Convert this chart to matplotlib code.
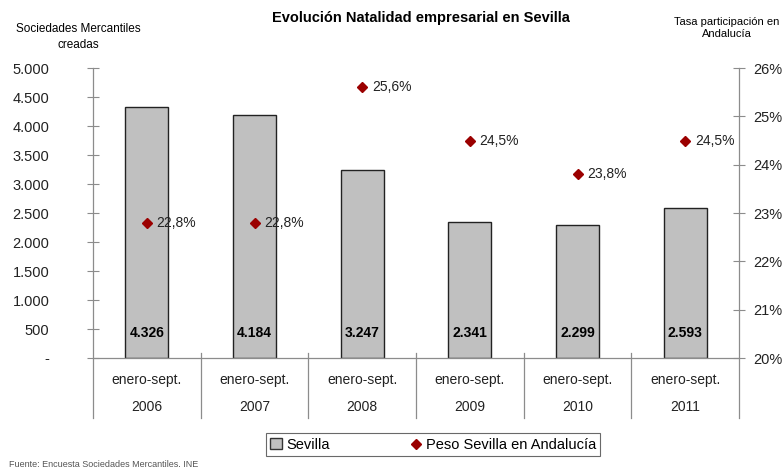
import numpy as np
import matplotlib

matplotlib.use("Agg")
import matplotlib.pyplot as plt
from matplotlib.lines import Line2D
from matplotlib.patches import Patch
import matplotlib.transforms as mtrans

plt.rcParams["font.family"] = ["Liberation Sans", "DejaVu Sans"]

# ---------- datos ----------
years = ["2006", "2007", "2008", "2009", "2010", "2011"]
period = "enero-sept."
sevilla = [4326, 4184, 3247, 2341, 2299, 2593]
sevilla_txt = ["4.326", "4.184", "3.247", "2.341", "2.299", "2.593"]
peso = [22.8, 22.8, 25.6, 24.5, 23.8, 24.5]
peso_txt = ["22,8%", "22,8%", "25,6%", "24,5%", "23,8%", "24,5%"]
left_ticks = [0, 500, 1000, 1500, 2000, 2500, 3000, 3500, 4000, 4500, 5000]
left_labels = ["-", "500", "1.000", "1.500", "2.000", "2.500", "3.000",
               "3.500", "4.000", "4.500", "5.000"]
right_ticks = [20, 21, 22, 23, 24, 25, 26]

GRAY = "#8c8c8c"
BAR = "#c0c0c0"
RED = "#9b0000"

fig = plt.figure(figsize=(7.83, 4.73), dpi=100)
ax = fig.add_axes([0.1188, 0.2431, 0.8250, 0.6131])
ax2 = ax.twinx()

x = np.arange(len(years))
ax.bar(x, sevilla, width=0.4, color=BAR, edgecolor="#222222", lw=1.0, zorder=2)
for xi, t in zip(x, sevilla_txt):
    ax.text(xi, 430, t, ha="center", va="center", fontsize=10,
            fontweight="bold", color="black", zorder=3)

ax.set_xlim(-0.5, len(years) - 0.5)
ax.set_ylim(0, 5000)
ax.set_yticks(left_ticks)
ax.set_yticklabels(left_labels)
ax.set_xticks([])

ax2.plot(x, peso, ls="none", marker="D", ms=5.5, color=RED, zorder=4)
for xi, v, t in zip(x, peso, peso_txt):
    ax2.text(xi + 0.09, v, t, ha="left", va="center", fontsize=10,
             color="#222222")
ax2.set_ylim(20, 26)
ax2.set_yticks(right_ticks)
ax2.set_yticklabels([f"{t}%" for t in right_ticks])

for a in (ax, ax2):
    for s in a.spines.values():
        s.set_visible(False)
    a.tick_params(axis="y", direction="inout", length=9, width=0.8,
                  color=GRAY, labelsize=10.5, labelcolor="#222222", pad=6)
ax.tick_params(axis="y", pad=27)

# ejes y separadores de categorías
tr = mtrans.blended_transform_factory(ax.transData, ax.transAxes)
ax.plot([-0.5, len(years) - 0.5], [0, 0], transform=tr, color=GRAY,
        lw=0.9, clip_on=False)
ax.plot([-0.5, -0.5], [-0.207, 1.0], transform=tr, color=GRAY, lw=0.9,
        clip_on=False)
ax.plot([len(years) - 0.5] * 2, [-0.207, 1.0], transform=tr, color=GRAY,
        lw=0.9, clip_on=False)
for b in x[1:]:
    ax.plot([b - 0.5, b - 0.5], [-0.207, 0.017], transform=tr, color=GRAY,
            lw=0.9, clip_on=False)
for xi, y in zip(x, years):
    ax.text(xi, -0.075, period, transform=tr, ha="center", va="center",
            fontsize=10, color="#222222")
    ax.text(xi, -0.17, y, transform=tr, ha="center", va="center",
            fontsize=10, color="#222222")

# textos
fig.text(0.537, 0.962, "Evolución Natalidad empresarial en Sevilla",
         ha="center", va="center", fontsize=10.5, fontweight="bold")
fig.text(0.1, 0.922, "Sociedades Mercantiles\ncreadas", ha="center",
         va="center", fontsize=8.5, linespacing=1.4)
fig.text(0.928, 0.94, "Tasa participación en\nAndalucía", ha="center",
         va="center", fontsize=8, linespacing=1.25)
fig.text(0.012, 0.017, "Fuente: Encuesta Sociedades Mercantiles. INE",
         ha="left", va="center", fontsize=6.5, color="#555555")

handles = [
    Patch(facecolor=BAR, edgecolor="#333333", label="Sevilla"),
    Line2D([0], [0], ls="none", marker="D", ms=5.5, color=RED,
           label="Peso Sevilla en Andalucía"),
]
leg = fig.legend(handles=handles, loc="center", ncol=2,
                 bbox_to_anchor=(0.553, 0.06), fontsize=10.5, frameon=True,
                 fancybox=False, edgecolor="#444444", handlelength=0.8,
                 handletextpad=0.3, columnspacing=5.5, borderpad=0.3,
                 borderaxespad=0)
leg.get_frame().set_linewidth(0.8)

fig.savefig("out.png", dpi=100, facecolor="white")
